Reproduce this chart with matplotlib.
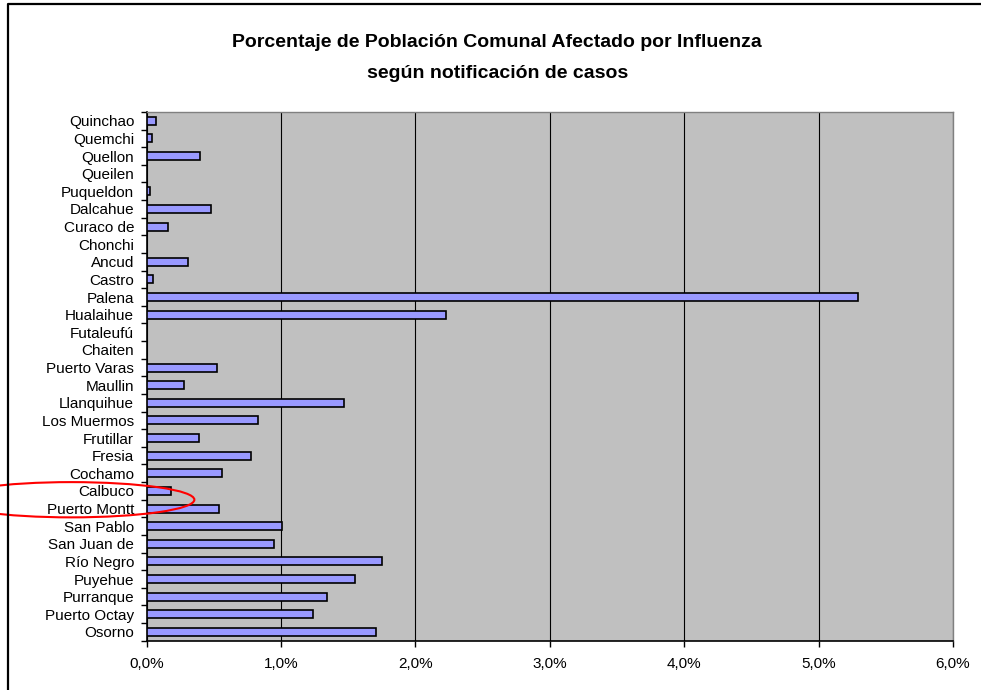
import numpy as np
import matplotlib
matplotlib.use('Agg')
import matplotlib.pyplot as plt
from matplotlib.patches import Ellipse
from matplotlib.lines import Line2D
from matplotlib.ticker import FuncFormatter

plt.rcParams.update({
    'font.family': ['Liberation Sans', 'DejaVu Sans'],
    'font.size': 11,
    'text.color': '#000',
    'xtick.color': '#000',
    'ytick.color': '#000',
})

# communes, bottom to top as drawn
comunas = ['Osorno', 'Puerto Octay', 'Purranque', 'Puyehue', 'Río Negro',
           'San Juan de', 'San Pablo', 'Puerto Montt', 'Calbuco', 'Cochamo',
           'Fresia', 'Frutillar', 'Los Muermos', 'Llanquihue', 'Maullin',
           'Puerto Varas', 'Chaiten', 'Futaleufú', 'Hualaihue', 'Palena',
           'Castro', 'Ancud', 'Chonchi', 'Curaco de', 'Dalcahue',
           'Puqueldon', 'Queilen', 'Quellon', 'Quemchi', 'Quinchao']
# percentage of population affected
porcentaje = [1.71, 1.24, 1.34, 1.55, 1.75,
              0.95, 1.01, 0.54, 0.18, 0.56,
              0.78, 0.39, 0.83, 1.47, 0.275,
              0.52, 0.0, 0.0, 2.23, 5.29,
              0.05, 0.31, 0.0, 0.16, 0.48,
              0.025, 0.0, 0.40, 0.037, 0.072]
x_ticks = [0, 1, 2, 3, 4, 5, 6]

fig = plt.figure(figsize=(9.81, 6.9), dpi=100)
ax = fig.add_axes([0.1495, 0.0714, 0.822, 0.7663])
ax.set_facecolor('#C0C0C0')

y = np.arange(len(comunas))
ax.barh(y, porcentaje, height=0.45, color='#9999FF', edgecolor='black',
        linewidth=1.2, zorder=3)

ax.set_xlim(0, 6)
ax.set_ylim(-0.5, len(comunas) - 0.5)
ax.set_xticks(x_ticks)
ax.xaxis.set_major_formatter(FuncFormatter(lambda v, p: f'{v:.1f}%'.replace('.', ',')))
ax.set_yticks(y)
ax.set_yticklabels(comunas)
ax.set_yticks(np.arange(len(comunas) + 1) - 0.5, minor=True)
ax.tick_params(axis='y', which='major', length=0, pad=9)
ax.tick_params(axis='y', which='minor', length=4, width=1, direction='out')
ax.tick_params(axis='x', length=4, width=1, direction='out', pad=8)

ax.grid(axis='x', color='black', linewidth=0.8, zorder=1)
ax.set_axisbelow(True)
for side in ['left', 'bottom']:
    ax.spines[side].set_color('black')
    ax.spines[side].set_linewidth(1.2)
for side in ['top', 'right']:
    ax.spines[side].set_color('#808080')
    ax.spines[side].set_linewidth(1)

# red ellipse highlighting Calbuco / Puerto Montt
ax.add_patch(Ellipse((-0.56, 7.5), 1.83, 2.0, fill=False, edgecolor='red',
                     linewidth=1.5, clip_on=False, zorder=5))

fig.text(0.507, 0.939, 'Porcentaje de Población Comunal Afectado por Influenza',
         ha='center', va='center', fontsize=14, fontweight='bold')
fig.text(0.507, 0.894, 'según notificación de casos',
         ha='center', va='center', fontsize=14, fontweight='bold')

# chart frame (left and top edges visible)
fig.add_artist(Line2D([8 / 981, 8 / 981, 1.02], [-0.02, 1 - 4 / 690, 1 - 4 / 690],
                      transform=fig.transFigure, color='black', linewidth=1.6))

fig.savefig('out.png', dpi=100, facecolor='white')
